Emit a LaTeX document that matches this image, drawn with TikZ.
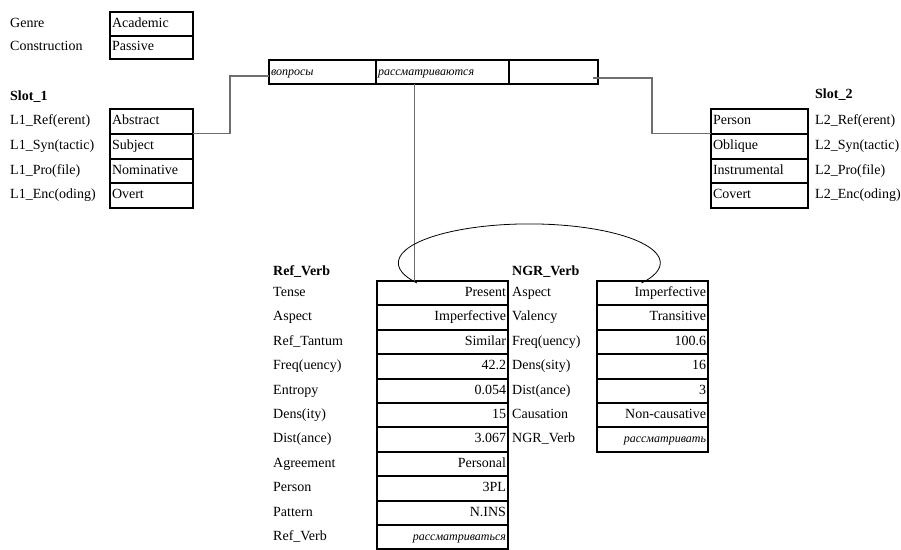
\documentclass[tikz,border=0pt]{standalone}
\usepackage{fontspec}
\setmainfont{Liberation Serif}
\usepackage{xcolor}
\definecolor{linkgray}{HTML}{6E6E6E}
\newcommand{\ru}[1]{{\fontsize{12}{14}\selectfont\itshape #1}}

\begin{document}
\begin{tikzpicture}[x=1pt, y=-1pt, font=\fontsize{14}{16}\selectfont,
  lbl/.style={anchor=west, inner sep=0pt, text height=9.5pt, text depth=3pt},
  hdr/.style={lbl, font=\fontsize{14}{16}\selectfont\bfseries},
  cell/.style={draw, line width=2pt, outer sep=0pt, anchor=north west, inner xsep=2pt, inner ysep=0pt, text height=9.5pt, text depth=3pt},
  lcell/.style={cell, align=left, text width=#1},
  rcell/.style={cell, align=right, text width=#1},
  link/.style={linkgray, line width=1.2pt},
]
  \useasboundingbox (0,0) rectangle (901,549);
  \coordinate (leftx) at (10,0);
  \coordinate (refx) at (273,0);
  \coordinate (ngrx) at (512,0);
  \coordinate (rightx) at (815,0);

  % genre / construction
  \node[lcell=79pt, minimum height=23.5pt] (g1) at (110,12) {Academic};
  \node[lcell=79pt, minimum height=23.5pt] (g2) at (g1.south west) {Passive};
  \node[lbl] (gl1) at (g1.west -| leftx) {Genre};
  \node[lbl] (gl2) at (g2.west -| leftx) {Construction};

  % the clause
  \node[lcell=103pt, minimum height=24pt] (w1) at (269,60) {\ru{вопросы}};
  \node[lcell=129pt, minimum height=24pt] (w2) at (w1.north east) {\ru{рассматриваются}};
  \node[lcell=85pt, minimum height=24pt] (w3) at (w2.north east) {};

  % slot 1
  \node[hdr] (s1head) at (10,97) {Slot\_1};
  \node[lcell=79pt, minimum height=24.75pt] (s1r1) at (110,109) {Abstract};
  \node[lbl] (s1l1) at (s1r1.west -| leftx) {L1\_Ref(erent)};
  \foreach \lab/\val [count=\i from 2, remember=\i as \j (initially 1)] in
    {L1\_Syn(tactic)/Subject, L1\_Pro(file)/Nominative, L1\_Enc(oding)/Overt} {
    \node[lcell=79pt, minimum height=24.75pt] (s1r\i) at (s1r\j.south west) {\val};
    \node[lbl] (s1l\i) at (s1r\i.west -| leftx) {\lab};
  }

  % slot 2
  \node[hdr] (s2head) at (815,95) {Slot\_2};
  \node[lcell=93pt, minimum height=24.75pt] (s2r1) at (711,109) {Person};
  \node[lbl] (s2l1) at (s2r1.west -| rightx) {L2\_Ref(erent)};
  \foreach \lab/\val [count=\i from 2, remember=\i as \j (initially 1)] in
    {L2\_Syn(tactic)/Oblique, L2\_Pro(file)/Instrumental, L2\_Enc(oding)/Covert} {
    \node[lcell=93pt, minimum height=24.75pt] (s2r\i) at (s2r\j.south west) {\val};
    \node[lbl] (s2l\i) at (s2r\i.west -| rightx) {\lab};
  }

  % ref verb
  \node[hdr] (refhead) at (273,272) {Ref\_Verb};
  \node[rcell=127pt, minimum height=24.4pt] (r1) at (377,281) {Present};
  \node[lbl] (rl1) at (r1.west -| refx) {Tense};
  \foreach \lab/\val [count=\i from 2, remember=\i as \j (initially 1)] in
    {Aspect/Imperfective, Ref\_Tantum/Similar, Freq(uency)/42.2, Entropy/0.054,
     Dens(ity)/15, Dist(ance)/3.067, Agreement/Personal, Person/3PL,
     Pattern/N.INS, Ref\_Verb/\ru{рассматриваться}} {
    \node[rcell=127pt, minimum height=24.4pt] (r\i) at (r\j.south west) {\val};
    \node[lbl] (rl\i) at (r\i.west -| refx) {\lab};
  }

  % ngr verb
  \node[hdr] (ngrhead) at (512,272) {NGR\_Verb};
  \node[rcell=107pt, minimum height=24.4pt] (n1) at (597,281) {Imperfective};
  \node[lbl] (nl1) at (n1.west -| ngrx) {Aspect};
  \foreach \lab/\val [count=\i from 2, remember=\i as \j (initially 1)] in
    {Valency/Transitive, Freq(uency)/100.6, Dens(sity)/16, Dist(ance)/3,
     Causation/Non-causative, NGR\_Verb/\ru{рассматривать}} {
    \node[rcell=107pt, minimum height=24.4pt] (n\i) at (n\j.south west) {\val};
    \node[lbl] (nl\i) at (n\i.west -| ngrx) {\lab};
  }

  % links
  \draw[link] (s1r1.south east) -- ++(37,0) |- ([yshift=-4pt]w1.west);
  \draw[link] ([shift={(-5pt,-6pt)}]w3.east) -- ++(59,0) |- (s2r1.south west);
  \draw[link] ([xshift=-28pt]w2.south) -- ([xshift=-28pt]w2.south |- r1.north);
  \draw[line width=0.8pt] ([shift={(40pt,-2pt)}]r1.north west)
    arc[start angle=211, end angle=-31, x radius=131pt, y radius=39pt];
\end{tikzpicture}
\end{document}
